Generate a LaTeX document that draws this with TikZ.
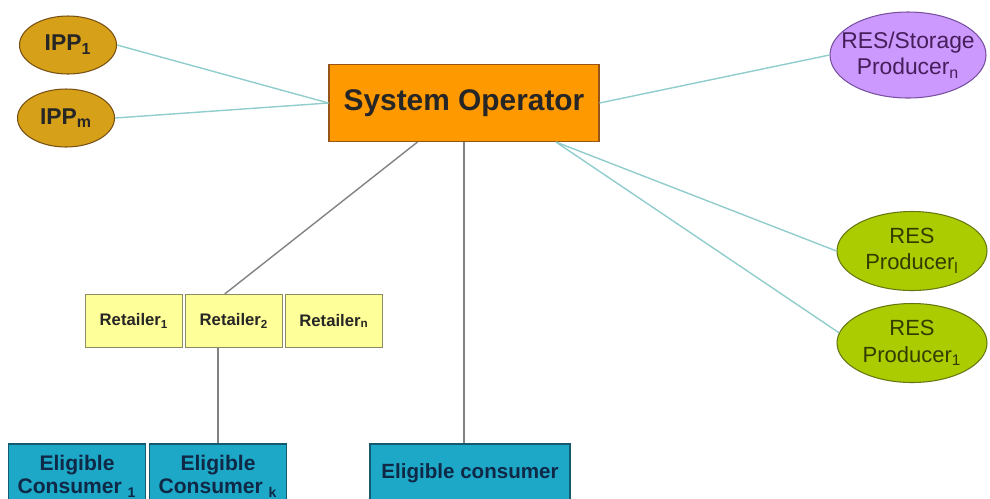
\documentclass[tikz,border=0pt]{standalone}
\usepackage{fontspec}
\setmainfont{Liberation Sans}
\usetikzlibrary{shapes.geometric}

\definecolor{ippfill}{RGB}{214,160,24}
\definecolor{ippline}{RGB}{120,80,20}
\definecolor{sofill}{RGB}{255,153,0}
\definecolor{soline}{RGB}{150,85,20}
\definecolor{storfill}{RGB}{204,153,255}
\definecolor{storline}{RGB}{120,80,160}
\definecolor{stortext}{RGB}{70,30,90}
\definecolor{resfill}{RGB}{170,204,0}
\definecolor{resline}{RGB}{100,120,20}
\definecolor{restext}{RGB}{50,60,0}
\definecolor{retfill}{RGB}{255,255,153}
\definecolor{retline}{RGB}{140,140,100}
\definecolor{ecfill}{RGB}{30,168,200}
\definecolor{ecline}{RGB}{20,90,110}
\definecolor{ectext}{RGB}{15,40,70}
\definecolor{linkteal}{RGB}{145,205,205}
\definecolor{linkgray}{RGB}{130,130,130}

\begin{document}
\begin{tikzpicture}
  [x=0.2mm,y=-0.2mm,every node/.style={draw,inner sep=0pt,line width=0.6pt},
   oval/.style={ellipse,inner xsep=-14pt,inner ysep=-8pt,align=center},
   box/.style={rectangle,align=center},
   ipp/.style={oval,fill=ippfill,draw=ippline,minimum width=19.4mm,minimum height=11.6mm,
     font=\fontsize{13}{15}\selectfont\bfseries,text=black!85},
   sysop/.style={box,fill=sofill,draw=soline,minimum width=54mm,minimum height=15.4mm,
     font=\fontsize{17}{20}\selectfont\bfseries,text=black!85},
   storage/.style={oval,fill=storfill,draw=storline,minimum width=31.2mm,minimum height=17.2mm,
     font=\fontsize{13}{15}\selectfont,text=stortext},
   resprod/.style={oval,fill=resfill,draw=resline,minimum width=30mm,minimum height=15.8mm,
     font=\fontsize{12.5}{15}\selectfont,text=restext},
   retail/.style={box,fill=retfill,draw=retline,minimum width=19.4mm,minimum height=10.6mm,
     font=\fontsize{9.5}{11}\selectfont\bfseries,text=black!85},
   consumer/.style={box,fill=ecfill,draw=ecline,minimum width=27.4mm,minimum height=12.8mm,
     font=\fontsize{12}{13.5}\selectfont\bfseries,text=ectext},
   tealline/.style={draw=linkteal,line width=0.8pt},
   grayline/.style={draw=linkgray,line width=0.8pt}]
  \useasboundingbox (0,0) rectangle (990,498);
  \clip (0,0) rectangle (990,498);

  \node[ipp] (ipp1) at (68,45) {IPP\textsubscript{1}};
  \node[ipp] (ippm) at (66,118) {IPP\textsubscript{m}};
  \node[sysop] (so) at (464,103) {System Operator};
  \node[storage] (resn) at (908,55) {RES/Storage\\Producer\textsubscript{n}};
  \node[resprod] (resl) at (912,251) {RES\\Producer\textsubscript{l}};
  \node[resprod] (res1) at (912,343) {RES\\Producer\textsubscript{1}};
  \node[retail] (ret1) at (134,321) {Retailer\textsubscript{1}};
  \node[retail] (ret2) at (234,321) {Retailer\textsubscript{2}};
  \node[retail] (retn) at (334,321) {Retailer\textsubscript{n}};
  \node[consumer] (ec1) at (77,476) {Eligible\\Consumer \textsubscript{1}};
  \node[consumer] (eck) at (218,476) {Eligible\\Consumer \textsubscript{k}};
  \node[consumer,minimum width=40mm,minimum height=11.6mm,font=\fontsize{11.7}{14}\selectfont\bfseries]
    (ec) at (470,473) {Eligible consumer};

  \foreach \from/\to in {ipp1.east/so.west,ippm.east/so.west,so.east/resn.west,
                         so.337/resl.west,so.337/res1.172}
    \draw[tealline] (\from) -- (\to);

  \draw[grayline] (so.220) -- (ret2.109);
  \draw[grayline] (eck.north |- ret2.south) -- (eck.north);
  \draw[grayline] (so.south) -- (so.south |- ec.north);

\end{tikzpicture}
\end{document}
